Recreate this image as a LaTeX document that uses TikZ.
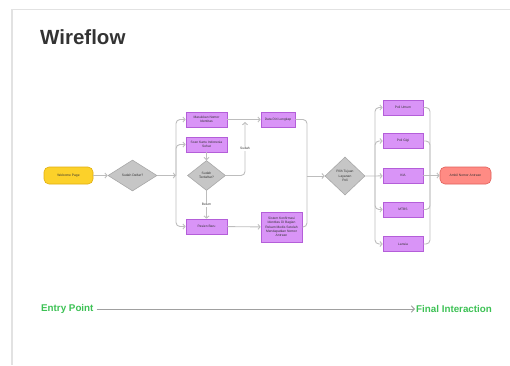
\documentclass[tikz,border=0pt]{standalone}
\usepackage{fontspec}
\setmainfont{Liberation Sans}
\usetikzlibrary{shapes.geometric,arrows.meta}
\definecolor{conn}{HTML}{BDBDBD}
\definecolor{legendc}{HTML}{A0A0A0}
\definecolor{framec}{HTML}{E2E2E2}
\definecolor{titlec}{HTML}{333333}
\definecolor{pfill}{HTML}{D994F7}
\definecolor{pdraw}{HTML}{B45ED9}
\definecolor{gfill}{HTML}{C6C6C6}
\definecolor{gdraw}{HTML}{A8A8A8}
\definecolor{yfill}{HTML}{FCD12A}
\definecolor{ydraw}{HTML}{E0AE10}
\definecolor{rfill}{HTML}{FF8B84}
\definecolor{rdraw}{HTML}{E0605A}
\definecolor{greent}{HTML}{3CC154}
\newcommand{\tinytxt}{\fontsize{3.3}{4.3}\selectfont}
\tikzset{
  pbox/.style={draw=pdraw, fill=pfill, line width=0.6pt, minimum width=41pt, minimum height=15pt, inner sep=0.5pt, align=center, font=\tinytxt, text=titlec},
  gdia/.style={shape=diamond, draw=gdraw, fill=gfill, line width=0.6pt, inner sep=0pt, align=center, font=\tinytxt, text=titlec},
  pill/.style={rounded corners=5pt, line width=0.6pt, minimum height=17pt, inner sep=0.5pt, align=center, font=\tinytxt, text=titlec},
  conline/.style={draw=conn, line width=0.9pt, rounded corners=4pt},
  arr/.style={conline, -{Straight Barb[length=2.2pt,width=5pt]}},
  elabel/.style={fill=white, inner sep=0.8pt, font=\tinytxt, text=titlec},
  bigtext/.style={font=\fontsize{9.8}{11}\selectfont\bfseries, text=greent, inner sep=0pt}
}
\begin{document}
\begin{tikzpicture}[x=1pt,y=-1pt]
\useasboundingbox (0,0) rectangle (510,365);
% frame
\draw[framec, line width=1.4pt] (12,365) -- (12,9.5) -- (510,9.5);
% title
\node[anchor=west, inner sep=0pt, font=\fontsize{20.5}{24}\selectfont\bfseries, text=titlec] (title) at (40,37) {Wireflow};

% nodes
\node[pill, draw=ydraw, fill=yfill, minimum width=49pt] (wel) at (68.5,175.5) {Welcome Page};
\node[gdia, minimum width=49pt, minimum height=31pt] (d1) at (132.5,175.5) {Sudah Daftar?};
\node[pbox] (b1) at (206.5,119.5) {Masukkan Nomor\\Identitas};
\node[pbox] (b2) at (206.5,144.5) {Scan Kartu Indonesia\\Sehat};
\node[gdia, minimum width=38pt, minimum height=30pt] (d2) at (206.5,175.5) {Sudah\\Terdaftar?};
\node[pbox] (pb) at (206.5,226.5) {Pasien Baru};
\node[pbox, minimum width=34pt] (dd) at (278,119.5) {Data Diri Lengkap};
\node[pbox, minimum width=41pt, minimum height=30pt] (sk) at (281.5,227) {Sistem Konfirmasi\\Identitas Di Bagian\\Rekam Medis Setelah\\Mendapatkan Nomor\\Antrean};
\node[gdia, minimum width=40pt, minimum height=38pt] (d3) at (345,176) {Pilih Tujuan\\Layanan\\Poli};
\node[pbox, minimum width=40pt] (r1) at (403,107.5) {Poli Umum};
\node[pbox, minimum width=40pt] (r2) at (403,141) {Poli Gigi};
\node[pbox, minimum width=40pt] (r3) at (403,175.5) {KIA};
\node[pbox, minimum width=40pt] (r4) at (403,209.5) {MTBS};
\node[pbox, minimum width=40pt] (r5) at (403,244) {Lansia};
\node[pill, draw=rdraw, fill=rfill, minimum width=51pt] (amb) at (465.5,175.5) {Ambil Nomor Antrean};

% junction coordinates
\coordinate (t1) at (176,175.5);
\coordinate (s1) at (245,122);
\coordinate (t2) at (307,176);
\coordinate (t3) at (375,176);
\coordinate (t4) at (430,175.5);

% connectors
\draw[arr] (wel) -- (d1);
\draw[arr] (d1) -- (t1);
\draw[arr] (t1) |- (b1);
\draw[arr] (t1) |- (b2);
\draw[arr] (t1) |- (pb);
\draw[arr] (b2) -- (d2);
\draw[arr] (b1) -- (dd);
\draw[arr] (d2.east) -| node[elabel, pos=0.75] {Sudah} (s1);
\draw[arr] (d2) -- node[elabel] {Belum} (pb);
\draw[arr] (pb) -- (sk);
\draw[conline] (dd.east) -| (t2);
\draw[conline] (sk.east) -| (t2);
\draw[arr] (t2) -- (d3.west);
\draw[arr] (d3.east) -- (t3) -- (r3);
\draw[arr] (t3) |- (r1);
\draw[arr] (t3) |- (r2);
\draw[arr] (t3) |- (r4);
\draw[arr] (t3) |- (r5);
\draw[conline] (r1.east) -| (t4);
\draw[conline] (r2.east) -| (t4);
\draw[conline] (r4.east) -| (t4);
\draw[conline] (r5.east) -| (t4);
\draw[conline] (r3.east) -- (t4);
\draw[arr] (t4) -- (amb);

% bottom legend
\node[bigtext, anchor=west] (ep) at (41,309) {Entry Point};
\node[bigtext, anchor=west] (fi) at (416,309) {Final Interaction};
\draw[draw=legendc, line width=1pt, -{Straight Barb[length=3pt,width=6.5pt]}] ([xshift=3pt]ep.east) -- ([xshift=-1pt]fi.west);
\end{tikzpicture}
\end{document}
